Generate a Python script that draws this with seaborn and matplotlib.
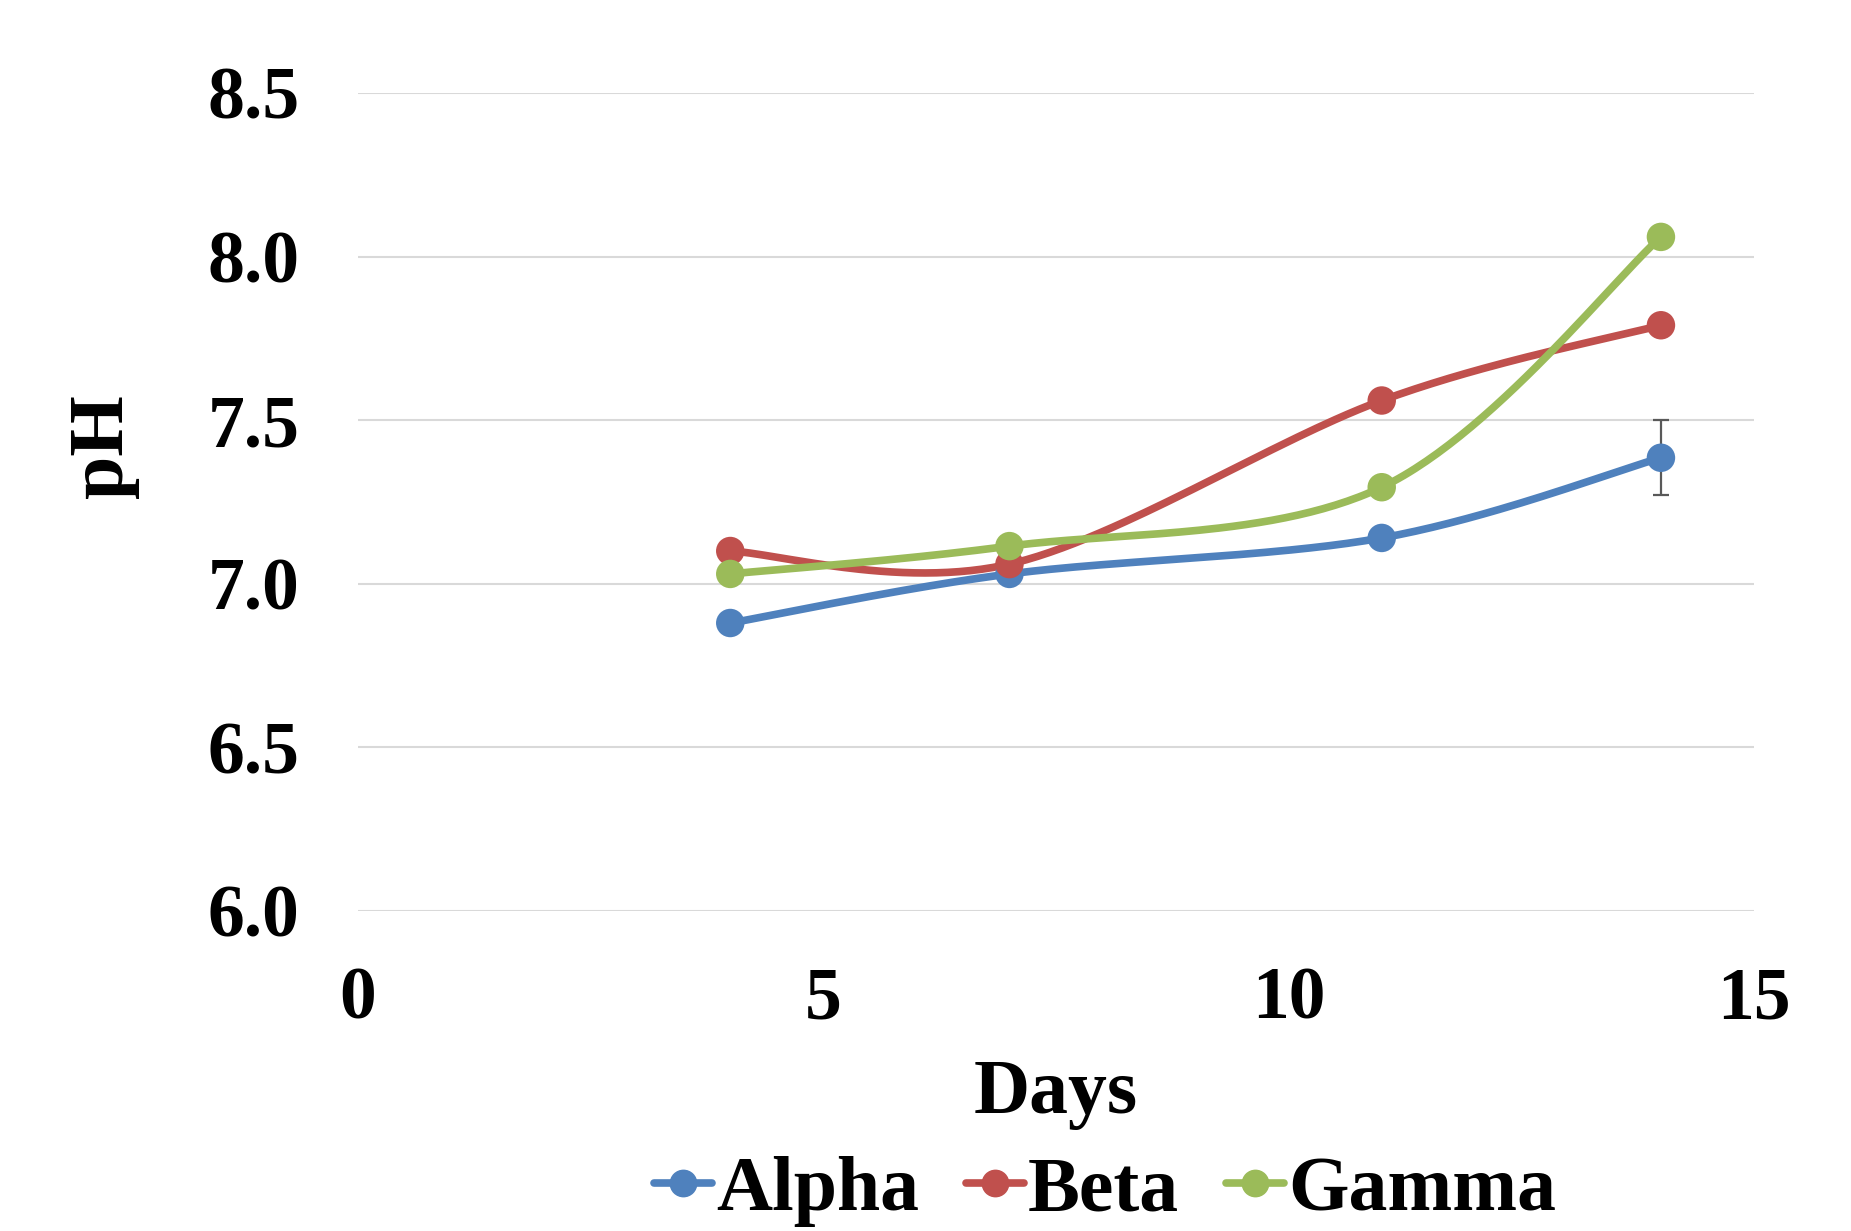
import numpy as np
import pandas as pd
import seaborn as sns
import matplotlib.pyplot as plt
from matplotlib.lines import Line2D

# Values
days = [4, 7, 11, 14]
alpha = [6.88, 7.03, 7.14, 7.385]
beta = [7.10, 7.06, 7.56, 7.79]
gamma = [7.03, 7.115, 7.295, 8.06]
alpha_err = [0, 0, 0, 0.115]

series_names = ["Alpha", "Beta", "Gamma"]
colors = ["#4f81bd", "#c0504d", "#9bbb59"]


def smooth(xs, ys, n=60):
    # Excel-style smoothed line: Catmull-Rom as cubic Bezier segments
    p = np.column_stack([xs, ys]).astype(float)
    p = np.vstack([p[0], p, p[-1]])
    out = []
    for i in range(1, len(p) - 2):
        p0, p1, p2, p3 = p[i - 1], p[i], p[i + 1], p[i + 2]
        c1 = p1 + (p2 - p0) / 6
        c2 = p2 - (p3 - p1) / 6
        t = np.linspace(0, 1, n)[:, None]
        seg = ((1 - t) ** 3) * p1 + 3 * ((1 - t) ** 2) * t * c1 + 3 * (1 - t) * t ** 2 * c2 + t ** 3 * p2
        out.append(seg if i == 1 else seg[1:])
    return np.vstack(out)


sns.set_theme(style="white")
plt.rcParams['font.family'] = ['Liberation Serif', 'DejaVu Serif']
plt.rcParams['font.weight'] = 'bold'
for key in ['text.color', 'axes.labelcolor', 'xtick.color', 'ytick.color']:
    plt.rcParams[key] = 'black'

fig = plt.figure(figsize=(18.51, 12.31), dpi=100)
ax = fig.add_axes([0.1934, 0.26, 0.7542, 0.6645])

rows = []
for name, vals in zip(series_names, [alpha, beta, gamma]):
    curve = smooth(days, vals)
    for x, y in curve:
        rows.append({"day": x, "pH": y, "series": name})
curves = pd.DataFrame(rows)

pts = pd.DataFrame({
    "day": days * 3,
    "pH": alpha + beta + gamma,
    "series": ["Alpha"] * 4 + ["Beta"] * 4 + ["Gamma"] * 4,
})

palette = dict(zip(series_names, colors))
sns.lineplot(data=curves, x="day", y="pH", hue="series", palette=palette,
             sort=False, estimator=None, linewidth=5.5, legend=False, ax=ax)

# error bar on Alpha
ax.errorbar(days[-1], alpha[-1], yerr=alpha_err[-1], fmt="none", ecolor="#595959",
            elinewidth=1.6, capsize=6, capthick=1.6, zorder=2)

sns.scatterplot(data=pts, x="day", y="pH", hue="series", palette=palette,
                s=420, edgecolor="none", legend=False, ax=ax, zorder=4)

ax.set_xlim(0, 15)
ax.set_ylim(6.0, 8.5)
ax.set_xticks([0, 5, 10, 15])
ax.set_yticks([6.0, 6.5, 7.0, 7.5, 8.0, 8.5])
ax.set_yticklabels(["6.0", "6.5", "7.0", "7.5", "8.0", "8.5"])
ax.yaxis.grid(True, color="#d9d9d9", linewidth=1.5)
ax.xaxis.grid(False)
for s in ax.spines.values():
    s.set_visible(False)
ax.tick_params(axis="x", length=0, pad=40, labelsize=53)
ax.tick_params(axis="y", length=0, pad=42, labelsize=53)
for lab in ax.get_xticklabels() + ax.get_yticklabels():
    lab.set_fontweight("bold")

ax.set_xlabel("Days", fontsize=56, fontweight="bold", labelpad=18)
ax.set_ylabel("pH", fontsize=56, fontweight="bold")
ax.yaxis.set_label_coords(-0.157, 0.568)

handles = [Line2D([0], [0], color=c, linewidth=5.5, marker="o", markersize=19) for c in colors]
fig.legend(handles, series_names, loc="center", bbox_to_anchor=(0.597, 0.032), ncol=3,
           frameon=False, handlelength=0.75, handletextpad=0.05,
           columnspacing=0.6, prop={"weight": "bold", "size": 56})

fig.savefig("out.png", dpi=100)
